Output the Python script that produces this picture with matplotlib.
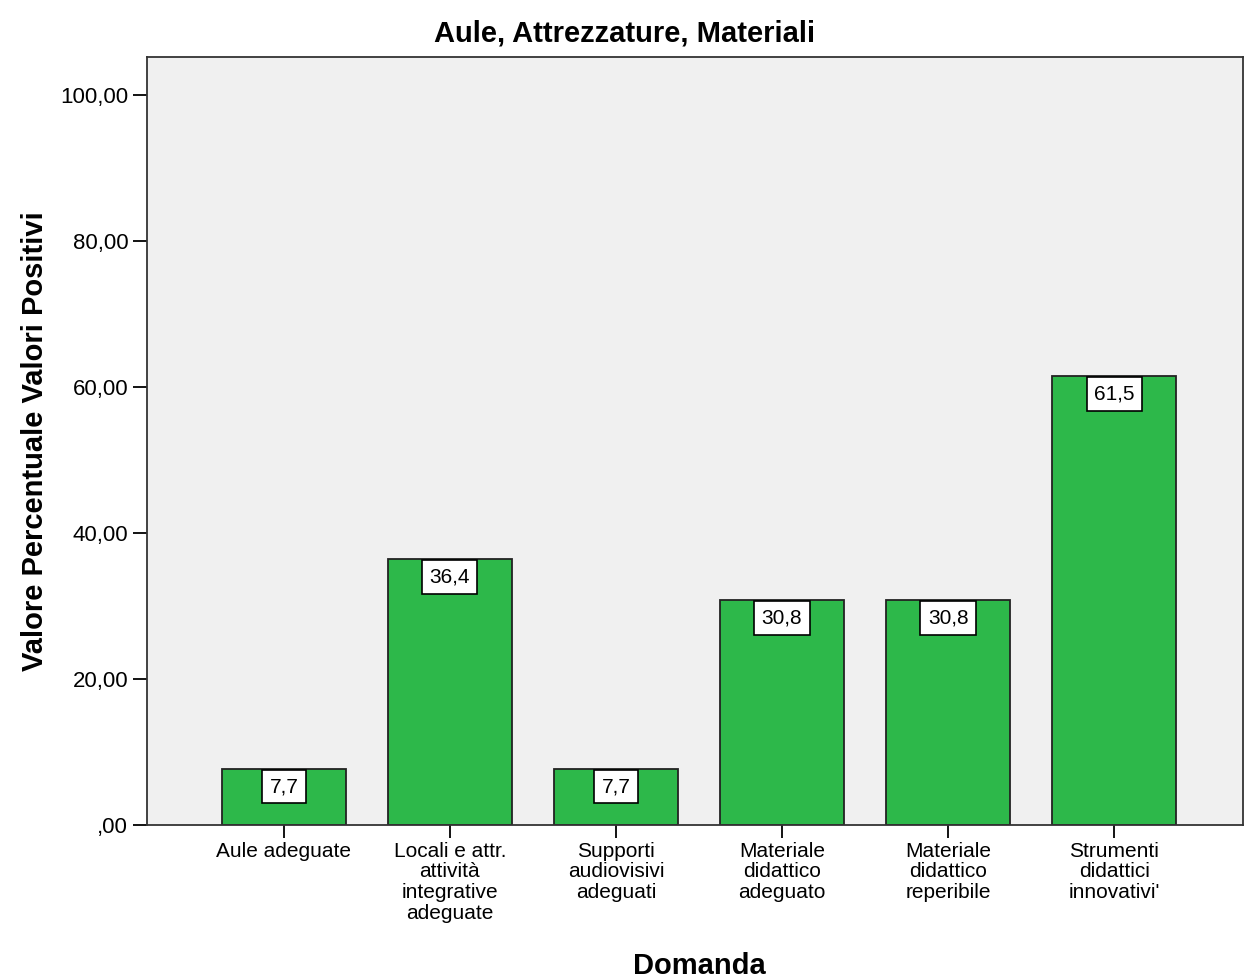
import matplotlib
matplotlib.use("Agg")
import matplotlib.pyplot as plt

plt.rcParams['font.family'] = ['Liberation Sans', 'DejaVu Sans']

domande = ["Aule adeguate",
           "Locali e attr.\nattività\nintegrative\nadeguate",
           "Supporti\naudiovisivi\nadeguati",
           "Materiale\ndidattico\nadeguato",
           "Materiale\ndidattico\nreperibile",
           "Strumenti\ndidattici\ninnovativi'"]
valori = [7.7, 36.4, 7.7, 30.8, 30.8, 61.5]
y_ticks = [0, 20, 40, 60, 80, 100]
y_labels = [",00", "20,00", "40,00", "60,00", "80,00", "100,00"]

fig = plt.figure(figsize=(12.44, 9.8), dpi=100)
ax = fig.add_axes([0.1182, 0.1582, 0.8810, 0.7836])
ax.set_facecolor("#f0f0f0")

x = range(len(valori))
bars = ax.bar(x, valori, width=0.75, color="#2db84a", edgecolor="#222222", linewidth=1.3)

for xi, v in zip(x, valori):
    lab = f"{v:.1f}".replace(".", ",")
    ax.annotate(lab, (xi, v), xytext=(0, -6), textcoords="offset points",
                ha="center", va="top", fontsize=15,
                bbox=dict(boxstyle="square,pad=0.35", fc="white", ec="black", lw=1.2))

ax.set_xlim(-0.824, 5.776)
ax.set_ylim(0, 105.2)
ax.set_xticks(list(x))
ax.set_xticklabels(domande, fontsize=15, linespacing=1.12)
ax.set_yticks(y_ticks)
ax.set_yticklabels(y_labels, fontsize=16)
ax.tick_params(axis="y", length=10, width=1.3, direction="out")
ax.tick_params(axis="x", length=9, width=1.3, direction="out", pad=3)
for s in ax.spines.values():
    s.set_linewidth(1.3)
    s.set_color("#333333")

fig.text(0.502, 1 - 33 / 980, "Aule, Attrezzature, Materiali", fontsize=21,
         fontweight="bold", ha="center", va="center")
ax.set_ylabel("Valore Percentuale Valori Positivi", fontsize=21, fontweight="bold", labelpad=8)
fig.text(0.5626, 1 - 966 / 980, "Domanda", fontsize=21, fontweight="bold",
         ha="center", va="center")

fig.savefig("out.png", dpi=100)
